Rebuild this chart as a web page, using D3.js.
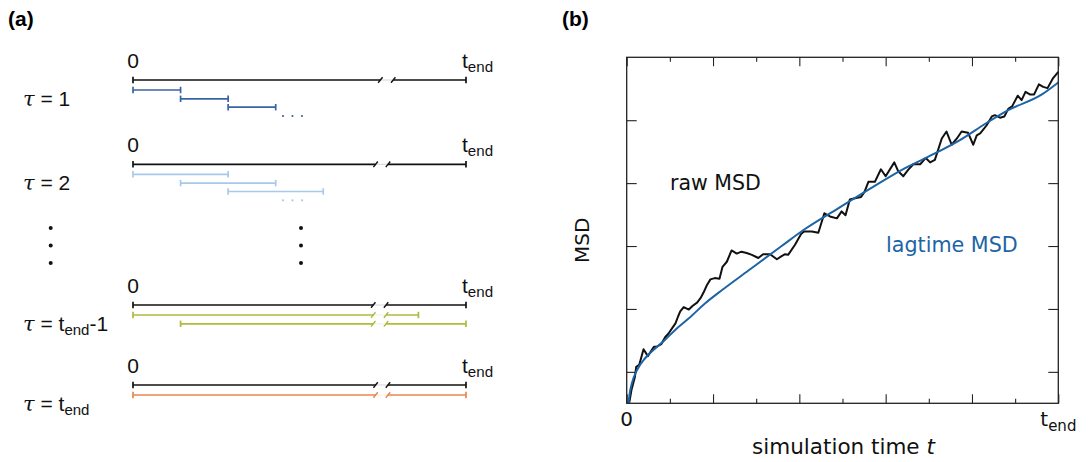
<!DOCTYPE html>
<html>
<head>
<meta charset="utf-8">
<script src="https://cdn.jsdelivr.net/npm/d3@7"></script>
<style>
  body { margin: 0; background: #fff; }
  svg { display: block; }
</style>
</head>
<body>
<div id="chart"></div>
<script>
// ---- panel (a): lag-time windows, in time steps (t_end shown as step 7) ----
const tEndStep = 7;
const breakStart = [5.2, 5.1, 5.05, 5.1];   // where the axis break sits on each row
const breakEnd   = [5.47, 5.36, 5.32, 5.36];
const rowLabels = ["1", "2", "tend-1", "tend"];
const rowWindows = [
  [[0, 1], [1, 2], [2, 3]],
  [[0, 2], [1, 3], [2, 4]],
  [[0, 6], [1, 7]],
  [[0, 7]]
];
const rowColors = ["#3a63a6", "#a9c9ec", "#aebb3c", "#e8864e"];
const rowHasDots = [true, true, false, false];

// ---- panel (b): MSD curves ----
const rawT = [0.06, 0.11, 0.19, 0.22, 0.29, 0.39, 0.49, 0.63, 0.70, 0.80, 0.89, 0.97, 1.05, 1.13, 1.19,
  1.24, 1.32, 1.44, 1.53, 1.63, 1.71, 1.78, 1.86, 1.94, 2.04, 2.15, 2.22, 2.32, 2.43, 2.55, 2.66, 2.78,
  2.90, 3.05, 3.16, 3.32, 3.48, 3.59, 3.67, 3.74, 3.90, 4.04, 4.11, 4.29, 4.44, 4.58, 4.71, 4.87, 4.98,
  5.07, 5.17, 5.29, 5.43, 5.51, 5.60, 5.75, 5.89, 6.00, 6.20, 6.29, 6.41, 6.52, 6.64, 6.80, 6.93, 7.03,
  7.14, 7.30, 7.41, 7.53, 7.65, 7.76, 7.91, 8.03, 8.11, 8.19, 8.26, 8.34, 8.46, 8.53, 8.65, 8.75, 8.84,
  8.93, 9.06, 9.15, 9.24, 9.34, 9.44, 9.55, 9.65, 9.75, 9.88, 10.0];
const rawMSD = [0.01, 0.21, 0.42, 0.58, 0.61, 0.86, 0.75, 0.90, 0.90, 0.94, 1.05, 1.11, 1.19, 1.27, 1.38,
  1.46, 1.53, 1.49, 1.55, 1.60, 1.67, 1.76, 1.88, 1.97, 1.99, 1.98, 2.17, 2.25, 2.43, 2.38, 2.41, 2.39,
  2.36, 2.31, 2.37, 2.37, 2.29, 2.34, 2.37, 2.36, 2.52, 2.69, 2.73, 2.73, 2.71, 3.02, 2.97, 2.94, 3.05,
  2.99, 3.24, 3.26, 3.28, 3.36, 3.52, 3.52, 3.72, 3.61, 3.83, 3.69, 3.61, 3.71, 3.80, 3.80, 3.90, 3.83,
  3.87, 4.21, 4.32, 4.11, 4.21, 4.32, 4.30, 4.11, 4.26, 4.29, 4.35, 4.42, 4.56, 4.58, 4.54, 4.56, 4.68,
  4.72, 4.89, 4.82, 4.95, 4.91, 4.91, 5.07, 5.03, 5.01, 5.17, 5.27];
const lagT = [0.04, 0.08, 0.12, 0.24, 0.43, 0.66, 0.89, 1.13, 1.44, 1.82, 2.21, 2.82, 3.59, 4.13, 4.90,
  5.68, 6.45, 6.99, 7.76, 8.30, 8.84, 9.62, 10.0];
const lagMSD = [0.0, 0.2, 0.32, 0.53, 0.72, 0.87, 1.01, 1.17, 1.35, 1.59, 1.80, 2.11, 2.50, 2.77, 3.10,
  3.43, 3.74, 3.92, 4.20, 4.44, 4.66, 4.91, 5.10];
const xMajorTicks = [0, 2, 4, 6, 8, 10];
const xMinorTicks = [1, 3, 5, 7, 9];
const yTicks = [0.5, 1.5, 2.5, 3.5, 4.5];

const width = 1088, height = 462;
const svg = d3.select("#chart").append("svg")
  .attr("width", width)
  .attr("height", height);

const sans = "Liberation Sans, Arial, sans-serif";
const dejavu = "DejaVu Sans, sans-serif";

// panel letters
svg.append("text").attr("x", 8).attr("y", 26)
  .style("font-family", sans).style("font-weight", "bold").style("font-size", "21px")
  .text("(a)");
svg.append("text").attr("x", 562).attr("y", 26)
  .style("font-family", sans).style("font-weight", "bold").style("font-size", "21px")
  .text("(b)");

// ================= panel (a) =================
const xA = d3.scaleLinear().domain([0, tEndStep]).range([133, 466]);
const rowY = [80, 164.3, 305, 385];
const segOffsets = [10, 18.8, 27.2];

const gA = svg.append("g");

function brokenLine(g, y, a, b, bs, be, color) {
  const cap = 3.2;
  const x0 = xA(a), x1 = xA(b);
  const parts = [];
  if (b <= bs || a >= be) {
    parts.push([x0, x1]);
  } else {
    parts.push([x0, xA(bs)]);
    parts.push([xA(be), x1]);
  }
  parts.forEach(p => {
    g.append("line").attr("x1", p[0]).attr("x2", p[1]).attr("y1", y).attr("y2", y)
      .attr("stroke", color).attr("stroke-width", 1.7);
  });
  if (b > bs && a < be) {
    // faint fill through the gap + slashes
    g.append("line").attr("x1", xA(bs)).attr("x2", xA(be)).attr("y1", y).attr("y2", y)
      .attr("stroke", color).attr("stroke-opacity", 0.15).attr("stroke-width", 1.2);
    [xA(bs), xA(be)].forEach(xs => {
      g.append("line").attr("x1", xs - 2.2).attr("x2", xs + 2.2).attr("y1", y + 2.8).attr("y2", y - 2.8)
        .attr("stroke", color).attr("stroke-width", 1.4);
    });
  }
  [x0, x1].forEach(xc => {
    g.append("line").attr("x1", xc).attr("x2", xc).attr("y1", y - cap).attr("y2", y + cap)
      .attr("stroke", color).attr("stroke-width", 1.7);
  });
}

function tEndLabel(g, x, y, size) {
  const t = g.append("text").attr("x", x).attr("y", y)
    .style("font-family", sans).style("font-size", size + "px").style("fill", "#111");
  t.append("tspan").text("t");
  t.append("tspan").attr("dy", 4).style("font-size", (size * 0.72) + "px").text("end");
}

rowY.forEach((y, i) => {
  const g = gA.append("g");
  const bs = breakStart[i], be = breakEnd[i];

  // "0" and t_end labels
  g.append("text").attr("x", xA(0)).attr("y", y - 12.5).attr("text-anchor", "middle")
    .style("font-family", sans).style("font-size", "21px").style("fill", "#111").text("0");
  tEndLabel(g, xA(tEndStep) - 4, y - 12.5, 21);

  // time axis
  brokenLine(g, y, 0, tEndStep, bs, be, "#111");

  // lag windows
  rowWindows[i].forEach((w, j) => {
    brokenLine(g, y + segOffsets[j], w[0], w[1], bs, be, rowColors[i]);
  });

  if (rowHasDots[i]) {
    const dy = y + 36;
    [3.1, 3.3, 3.5].forEach(d => {
      g.append("circle").attr("cx", xA(d) + 2.5).attr("cy", dy).attr("r", 1.1)
        .attr("fill", rowColors[i]);
    });
  }

  // tau label
  const lab = g.append("text").attr("x", 23).attr("y", y + 26)
    .style("font-family", sans).style("font-size", "21px").style("fill", "#111");
  lab.append("tspan").style("font-family", "DejaVu Serif, Liberation Serif, serif")
    .style("font-style", "italic").text("τ");
  const lbl = rowLabels[i];
  if (lbl.startsWith("tend")) {
    lab.append("tspan").text(" = t");
    lab.append("tspan").attr("dy", 4).style("font-size", "15px").text("end");
    if (lbl.length > 4) lab.append("tspan").attr("dy", -4).text(lbl.slice(4));
  } else {
    lab.append("tspan").text(" = " + lbl);
  }
});

// vertical ellipses
[50.7, 301].forEach(cx => {
  [228, 245.5, 263].forEach(cy => {
    gA.append("circle").attr("cx", cx).attr("cy", cy).attr("r", 2).attr("fill", "#111");
  });
});

// ================= panel (b) =================
const plot = { left: 626.7, right: 1058.3, top: 57.3, bottom: 403.3 };
const x = d3.scaleLinear().domain([0, 10]).range([plot.left, plot.right]);
const y = d3.scaleLinear().domain([0, 5.5]).range([plot.bottom, plot.top]);

const gB = svg.append("g");

function tickAxis(axisFn, scale, values, size, transform) {
  const ax = gB.append("g").attr("transform", transform)
    .call(axisFn(scale).tickValues(values).tickSize(size).tickFormat(""));
  ax.select(".domain").remove();
  ax.selectAll(".tick line").attr("stroke", "#222").attr("stroke-width", 1.1);
}
tickAxis(d3.axisBottom, x, xMajorTicks, -9, `translate(0,${plot.bottom})`);
tickAxis(d3.axisBottom, x, xMinorTicks, -4.5, `translate(0,${plot.bottom})`);
tickAxis(d3.axisTop, x, xMajorTicks, -9, `translate(0,${plot.top})`);
tickAxis(d3.axisTop, x, xMinorTicks, -4.5, `translate(0,${plot.top})`);
tickAxis(d3.axisLeft, y, yTicks, -10, `translate(${plot.left},0)`);
tickAxis(d3.axisRight, y, yTicks, -10, `translate(${plot.right},0)`);

const rawData = rawT.map((t, i) => ({ t: t, v: rawMSD[i] }));
const lagData = lagT.map((t, i) => ({ t: t, v: lagMSD[i] }));

gB.append("path").datum(rawData)
  .attr("fill", "none").attr("stroke", "#111").attr("stroke-width", 2)
  .attr("stroke-linejoin", "round")
  .attr("d", d3.line().x(d => x(d.t)).y(d => y(d.v)));

gB.append("path").datum(lagData)
  .attr("fill", "none").attr("stroke", "#1d64a6").attr("stroke-width", 2)
  .attr("d", d3.line().x(d => x(d.t)).y(d => y(d.v)).curve(d3.curveMonotoneX));

gB.append("rect")
  .attr("x", plot.left).attr("y", plot.top)
  .attr("width", plot.right - plot.left).attr("height", plot.bottom - plot.top)
  .attr("fill", "none").attr("stroke", "#222").attr("stroke-width", 1.3);

// tick labels
gB.append("text").attr("x", x(0)).attr("y", plot.bottom + 23).attr("text-anchor", "middle")
  .style("font-family", dejavu).style("font-size", "20px").style("fill", "#111").text("0");
const te = gB.append("text").attr("x", x(10) - 18).attr("y", plot.bottom + 23)
  .style("font-family", dejavu).style("font-size", "20px").style("fill", "#111");
te.append("tspan").text("t");
te.append("tspan").attr("dy", 5).style("font-size", "15px").text("end");

// axis titles
const xt = gB.append("text").attr("x", (plot.left + plot.right) / 2 + 1).attr("y", 454)
  .attr("text-anchor", "middle")
  .style("font-family", dejavu).style("font-size", "21.5px").style("fill", "#111");
xt.append("tspan").text("simulation time ");
xt.append("tspan").style("font-style", "italic").text("t");

gB.append("text")
  .attr("transform", `translate(589,${(plot.top + plot.bottom) / 2 + 10}) rotate(-90)`)
  .attr("text-anchor", "middle")
  .style("font-family", dejavu).style("font-size", "20px").style("fill", "#111")
  .text("MSD");

// annotations
gB.append("text").attr("x", 670).attr("y", 189.5)
  .style("font-family", dejavu).style("font-size", "20.5px").style("fill", "#111")
  .text("raw MSD");
gB.append("text").attr("x", 886).attr("y", 252)
  .style("font-family", dejavu).style("font-size", "20.7px").style("fill", "#1d64a6")
  .text("lagtime MSD");
</script>
</body>
</html>
